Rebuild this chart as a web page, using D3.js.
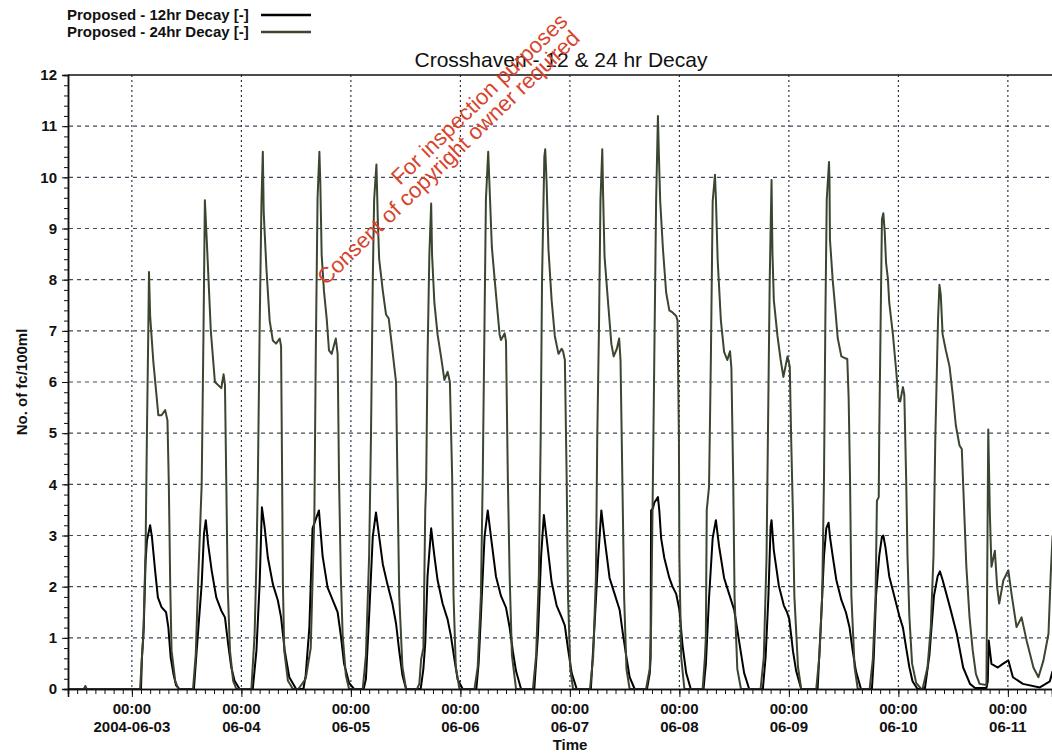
<!DOCTYPE html>
<html>
<head>
<meta charset="utf-8">
<script src="https://cdn.jsdelivr.net/npm/d3@7"></script>
<style>
  html, body { margin: 0; padding: 0; background: #fff; }
  svg { display: block; }
  text { font-family: "Liberation Sans", Arial, Helvetica, sans-serif; }
</style>
</head>
<body>
<svg id="chart" width="1052" height="754"></svg>
<script>
// ---- DATA (hours after 2004-06-02 00:00, values in No. of fc/100ml) ----
const seriesNames = ["Proposed - 12hr Decay [-]", "Proposed - 24hr Decay [-]"];
const seriesColors = ["#000000", "#3a4630"];

// 24hr decay (upper curve)
const hours24 = [
  10, 13.5, 13.8, 14.1, 25.8,
  26.2, 26.5, 27.0, 27.3, 27.6, 27.75, 28.0, 28.7, 29.3, 29.8, 30.5, 31.3, 31.8, 32.1, 32.4, 32.7, 33.5, 34.2,
  37.4, 38.0, 38.5, 39.3, 39.7, 40.0, 40.4, 41.3, 42.2, 43.6, 44.1, 44.4, 44.7, 45.0, 45.5, 46.2, 46.9,
  50.2, 50.9, 51.3, 51.6, 52.0, 52.4, 52.7, 52.9, 53.5, 54.2, 54.9, 55.6, 56.4, 56.7, 56.9, 57.1, 57.4, 58.2, 59.3,
  60.5, 62.1, 63.2, 64.0, 64.3, 64.7, 65.1, 65.3, 65.6, 66.1, 66.7, 67.2, 67.8, 68.7, 69.1, 69.4, 69.8, 70.2, 70.9, 71.6,
  74.6, 75.3, 76.0, 76.4, 76.8, 77.1, 77.6, 77.9, 78.2, 79.0, 79.7, 80.3, 81.0, 81.9, 82.2, 82.6, 83.3, 84.1,
  86.5, 87.0, 87.4, 87.9, 88.3, 88.5, 88.8, 89.2, 89.6, 89.8, 90.3, 91.0, 91.8, 92.5, 93.2, 93.7, 94.2, 94.5, 95.0, 95.8,
  99.1, 99.8, 100.5, 100.9, 101.3, 101.6, 102.1, 102.5, 102.9, 103.5, 104.2, 104.6, 104.9, 105.7, 106.0, 106.4, 106.8, 107.3, 108.2,
  111.9, 112.6, 113.2, 113.6, 113.9, 114.4, 114.6, 114.9, 115.3, 116.0, 116.7, 117.5, 118.2, 118.5, 118.9, 119.3, 119.6, 120.1, 120.7,
  124.4, 125.1, 125.7, 126.0, 126.4, 126.7, 127.1, 127.3, 127.6, 128.4, 129.1, 129.6, 130.3, 130.8, 131.1, 131.5, 131.9, 132.4, 133.1,
  136.7, 137.5, 137.8, 138.2, 138.5, 138.9, 139.3, 139.5, 139.8, 140.4, 141.1, 141.8, 142.5, 143.3, 143.6, 143.9, 144.0, 144.4, 145.1,
  149.1, 149.6, 149.8, 150.0, 150.5, 150.9, 151.3, 151.8, 152.0, 152.4, 153.1, 153.8, 154.5, 155.1, 155.4, 155.8, 156.1, 156.7, 157.5,
  161.8, 162.5, 163.1, 163.5, 163.8, 164.2, 164.4, 164.7, 165.5, 166.2, 166.8, 167.7, 168.2, 168.5, 168.9, 169.2, 170.0, 170.7,
  174.0, 174.7, 175.3, 175.7, 176.0, 176.3, 176.8, 176.9, 177.0, 177.3, 177.6, 178.2, 178.7, 179.5, 180.2, 180.8, 181.1, 181.4, 181.7, 182.4, 183.1,
  185.7, 186.4, 187.0, 187.3, 187.7, 187.8, 188.1, 188.4, 188.7, 189.0, 189.3, 189.7, 190.0, 190.8, 191.5, 192.0, 192.4, 193.0, 193.3, 193.7, 194.0, 194.4, 195.0, 195.9, 197.0,
  197.3, 198.4, 199.1, 199.7, 200.1, 200.5, 200.7, 201.0, 201.3, 201.7, 202.4, 203.2, 203.9, 204.6, 205.4, 205.9, 206.2, 206.9, 207.6, 208.3, 209.0, 209.8, 211.3,
  211.7, 212.05, 212.4, 213.15, 213.65, 214.1, 215.0, 216.1, 216.8, 217.9, 219.0, 220.1, 221.6, 222.7, 223.8, 224.9, 225.4, 225.8
];
const values24 = [
  0, 0, 0.06, 0, 0,
  0.62, 1.0, 2.7, 5.0, 7.0, 8.15, 7.3, 6.4, 5.83, 5.35, 5.35, 5.45, 5.25, 4.0, 2.05, 0.75, 0.16, 0,
  0, 0.68, 2.05, 4.0, 7.0, 9.55, 8.8, 7.0, 6.0, 5.88, 6.15, 5.95, 4.0, 2.0, 0.75, 0.16, 0,
  0, 1.07, 2.5, 4.0, 7.0, 9.5, 10.5, 9.3, 8.2, 7.2, 6.81, 6.75, 6.85, 6.7, 4.5, 2.05, 0.75, 0.16, 0,
  0, 0.2, 0.8, 3.4, 6.5, 9.6, 10.5, 9.9, 8.48, 7.78, 7.24, 6.62, 6.55, 6.85, 6.55, 4.14, 2.2, 1.05, 0.27, 0,
  0, 0.66, 2.6, 4.9, 8.0, 9.57, 10.25, 9.18, 8.4, 7.78, 7.32, 7.24, 6.7, 6.0, 4.14, 1.82, 0.43, 0,
  0, 0.1, 0.58, 0.8, 3.5, 4.0, 6.47, 8.48, 9.49, 8.48, 7.55, 6.93, 6.47, 6.04, 6.2, 6.0, 4.14, 1.82, 0.43, 0,
  0, 0.43, 1.82, 4.14, 7.24, 9.57, 10.5, 9.57, 8.64, 8.02, 7.32, 6.93, 6.82, 6.95, 6.8, 4.14, 2.2, 0.66, 0,
  0, 0.66, 2.2, 4.9, 8.0, 10.4, 10.55, 9.9, 8.6, 7.6, 6.9, 6.55, 6.65, 6.6, 6.43, 4.1, 1.78, 0.39, 0,
  0, 0.62, 2.17, 4.9, 7.2, 9.53, 10.55, 9.6, 8.45, 7.52, 6.74, 6.5, 6.65, 6.85, 6.43, 4.1, 1.78, 0.39, 0,
  0, 0.39, 1.24, 4.1, 6.43, 9.53, 11.2, 10.47, 9.53, 8.6, 7.75, 7.4, 7.36, 7.29, 7.2, 4.88, 2.56, 0.62, 0,
  0, 0.62, 1.0, 3.5, 3.95, 6.43, 9.53, 10.05, 9.6, 8.37, 7.2, 6.59, 6.43, 6.6, 6.28, 4.1, 1.78, 0.39, 0,
  0, 0.62, 2.56, 5.66, 7.98, 9.95, 8.53, 7.6, 6.9, 6.43, 6.1, 6.5, 6.3, 4.9, 3.37, 1.82, 0.43, 0,
  0, 0.66, 1.82, 4.14, 7.24, 9.57, 10.3, 9.95, 8.79, 8.4, 8.0, 7.4, 6.86, 6.5, 6.47, 6.45, 5.69, 4.14, 1.82, 0.43, 0,
  0, 0.58, 1.82, 3.68, 3.75, 4.92, 7.09, 9.18, 9.3, 8.95, 8.33, 8.02, 7.55, 6.93, 6.24, 5.69, 5.62, 5.9, 5.75, 4.14, 2.6, 1.43, 0.5, 0.12, 0,
  0, 0.43, 1.2, 2.6, 4.92, 6.47, 7.24, 7.9, 7.7, 6.93, 6.62, 6.31, 5.77, 5.15, 4.76, 4.69, 4.0, 2.39, 1.4, 0.75, 0.29, 0.1, 0.08,
  5.07, 3.43, 2.39, 2.7, 1.99, 1.67, 2.12, 2.32, 1.86, 1.21, 1.4, 0.95, 0.42, 0.23, 0.56, 1.08, 2.25, 3.0
];

// 12hr decay (lower curve)
const hours12 = [
  10, 26.0,
  26.2, 26.6, 27.0, 27.3, 28.0, 28.4, 29.1, 29.7, 30.5, 31.5, 32.0, 32.5, 33.1, 33.7, 34.4,
  37.6, 38.2, 39.3, 39.8, 40.2, 40.7, 41.5, 42.5, 43.6, 44.4, 45.1, 45.8, 46.5, 47.6,
  50.5, 51.3, 52.0, 52.5, 53.1, 53.8, 54.9, 56.0, 56.7, 57.5, 58.5, 60.0,
  61.6, 62.1, 62.9, 63.6, 65.0, 65.8, 66.9, 68.0, 69.1, 69.8, 70.5, 71.6, 72.7,
  74.8, 75.3, 76.0, 76.8, 77.5, 78.2, 79.0, 80.0, 81.1, 81.9, 82.6, 83.3, 84.1,
  87.3, 87.9, 88.3, 88.8, 89.6, 90.3, 91.0, 92.1, 93.2, 93.9, 94.7, 95.4, 96.5,
  99.5, 100.0, 100.5, 101.3, 102.0, 102.7, 103.8, 104.9, 106.0, 106.8, 107.5, 108.2, 109.3,
  112.2, 113.0, 113.7, 114.3, 114.9, 116.0, 117.1, 118.2, 118.9, 119.6, 120.4, 121.5,
  124.6, 125.5, 126.2, 126.9, 127.6, 128.7, 129.8, 130.9, 131.6, 132.4, 133.1, 134.2,
  136.9, 137.5, 137.7, 137.8, 138.2, 138.5, 139.3, 139.6, 140.0, 140.7, 141.8, 142.5, 143.3, 144.0, 144.7, 145.5, 146.5,
  149.3, 149.6, 149.8, 150.5, 151.3, 152.0, 152.7, 153.8, 154.9, 156.0, 156.7, 157.5, 158.2, 159.3,
  162.3, 162.9, 163.5, 164.0, 164.2, 164.7, 165.8, 166.9, 167.6, 168.1, 168.9, 169.6, 170.7,
  174.3, 175.1, 175.7, 176.2, 176.7, 177.0, 177.6, 178.4, 179.5, 180.5, 181.3, 182.0, 182.7, 183.8,
  186.2, 186.6, 187.1, 187.8, 188.4, 188.7, 189.2, 190.0, 191.1, 192.2, 193.0, 193.7, 194.4, 195.1, 196.2,
  197.8, 198.8, 199.8, 200.6, 201.1, 201.7, 203.3, 204.8, 206.2, 207.7, 208.8, 211.3,
  211.6, 211.8, 212.4, 213.8, 214.9, 216.1, 217.1, 219.3, 223.0, 225.2, 225.8
];
const values12 = [
  0, 0,
  0.6, 1.2, 2.5, 2.9, 3.2, 2.97, 2.31, 1.79, 1.6, 1.5, 1.2, 0.62, 0.3, 0.07, 0,
  0, 0.75, 2.05, 3.03, 3.3, 2.84, 2.31, 1.79, 1.53, 1.4, 0.88, 0.42, 0.16, 0,
  0, 0.75, 2.05, 3.55, 3.16, 2.57, 2.05, 1.73, 1.4, 0.75, 0.23, 0,
  0, 0.27, 1.2, 3.14, 3.49, 2.6, 1.98, 1.74, 1.5, 1.05, 0.5, 0.12, 0,
  0, 0.2, 1.43, 2.98, 3.45, 2.98, 2.44, 2.05, 1.67, 1.28, 0.74, 0.27, 0,
  0, 0.4, 0.9, 2.2, 3.14, 2.6, 2.13, 1.67, 1.36, 1.05, 0.58, 0.19, 0,
  0, 0.5, 1.43, 2.98, 3.49, 2.98, 2.2, 1.82, 1.59, 1.2, 0.74, 0.35, 0,
  0, 1.05, 2.6, 3.4, 2.95, 2.09, 1.63, 1.4, 1.24, 0.78, 0.31, 0,
  0, 1.4, 2.56, 3.49, 2.95, 2.17, 1.86, 1.55, 1.09, 0.62, 0.23, 0,
  0, 0.3, 0.6, 3.49, 3.53, 3.64, 3.75, 3.49, 2.95, 2.56, 2.17, 2.0, 1.86, 1.55, 0.85, 0.31, 0,
  0, 0.3, 0.47, 1.78, 2.95, 3.3, 2.79, 2.17, 1.86, 1.55, 1.16, 0.7, 0.31, 0,
  0, 0.62, 1.78, 3.18, 3.3, 2.71, 2.02, 1.63, 1.5, 1.36, 0.74, 0.35, 0,
  0, 1.43, 2.6, 3.14, 3.25, 2.98, 2.6, 2.13, 1.74, 1.5, 1.2, 0.74, 0.35, 0,
  0, 0.6, 1.82, 2.6, 2.98, 3.0, 2.75, 2.2, 1.82, 1.43, 1.2, 0.81, 0.43, 0.15, 0,
  0, 0.66, 1.82, 2.2, 2.3, 2.13, 1.6, 1.08, 0.42, 0.1, 0.02, 0.02,
  0.15, 0.95, 0.49, 0.42, 0.49, 0.56, 0.23, 0.1, 0.03, 0.15, 0.35
];

const yTickValues = [0,1,2,3,4,5,6,7,8,9,10,11,12];
const xTickDays = ["2004-06-03","2004-06-04","2004-06-05","2004-06-06","2004-06-07","2004-06-08","2004-06-09","2004-06-10","2004-06-11"];
const xTickLabels = ["2004-06-03","06-04","06-05","06-06","06-07","06-08","06-09","06-10","06-11"];
const chartTitle = "Crosshaven - 12 & 24 hr Decay";
const yTitle = "No. of fc/100ml";
const xTitle = "Time";
const watermarkLines = ["For inspection purposes", "Consent of copyright owner required"];

// ---- LAYOUT ----
const plotL = 68, plotR = 1052, plotT = 75, plotB = 689;
const baseMs = Date.UTC(2004, 5, 2, 0, 0);
const toDate = h => new Date(baseMs + h * 3600e3);

const x = d3.scaleUtc()
  .domain([toDate(10), toDate(10 + (plotR - plotL) / 4.5625)])
  .range([plotL, plotR]);
const y = d3.scaleLinear().domain([0, 12]).range([plotB, plotT]);

const svg = d3.select("#chart");

svg.append("defs").append("clipPath").attr("id", "plotclip")
  .append("rect").attr("x", plotL).attr("y", plotT - 2).attr("width", plotR - plotL).attr("height", plotB - plotT + 3);

// horizontal gridlines
svg.append("g").selectAll("line").data(yTickValues.filter(v => v > 0 && v < 12)).join("line")
  .attr("x1", plotL + 1).attr("x2", plotR)
  .attr("y1", d => y(d)).attr("y2", d => y(d))
  .attr("stroke", "#3f4a5a").attr("stroke-width", 1.2).attr("stroke-dasharray", "4,4");

// vertical gridlines
const dayDates = xTickDays.map(s => new Date(s + "T00:00:00Z"));
svg.append("g").selectAll("line").data(dayDates).join("line")
  .attr("x1", d => x(d)).attr("x2", d => x(d))
  .attr("y1", plotT).attr("y2", plotB)
  .attr("stroke", "#1e2538").attr("stroke-width", 1.1).attr("stroke-dasharray", "2,3");

// series
const lineGen = d3.line().x(d => x(d[0])).y(d => y(d[1]));
const s24 = hours24.map((h, i) => [toDate(h), values24[i]]);
const s12 = hours12.map((h, i) => [toDate(h), values12[i]]);
const plot = svg.append("g").attr("clip-path", "url(#plotclip)");
plot.append("path").datum(s12).attr("d", lineGen)
  .attr("fill", "none").attr("stroke", seriesColors[0]).attr("stroke-width", 2).attr("stroke-linejoin", "round");
plot.append("path").datum(s24).attr("d", lineGen)
  .attr("fill", "none").attr("stroke", seriesColors[1]).attr("stroke-width", 2).attr("stroke-linejoin", "round");

// top frame
svg.append("line").attr("x1", plotL).attr("x2", plotR).attr("y1", plotT).attr("y2", plotT)
  .attr("stroke", "#111").attr("stroke-width", 1.5);

// y axis
const yMinor = d3.axisLeft(y).tickValues(d3.range(0, 61, 1).map(v => v / 5)).tickSize(4).tickFormat("");
const gyMinor = svg.append("g").attr("transform", `translate(${plotL},0)`).call(yMinor);
const yAxis = d3.axisLeft(y).tickValues(yTickValues).tickSize(6).tickPadding(5).tickFormat(d3.format("d"));
const gy = svg.append("g").attr("transform", `translate(${plotL},0)`).call(yAxis);
[gyMinor, gy].forEach(g => {
  g.select(".domain").attr("stroke", "#111").attr("stroke-width", 1.5);
  g.selectAll(".tick line").attr("stroke", "#111");
});
gy.selectAll(".tick text").attr("font-size", 15).attr("font-weight", "bold").attr("fill", "#111")
  .attr("font-family", "'Liberation Sans', Arial, sans-serif");

// x axis
const xMinor = d3.axisBottom(x).ticks(d3.utcHour.every(2)).tickSize(5).tickFormat("");
const gxMinor = svg.append("g").attr("transform", `translate(0,${plotB})`).call(xMinor);
const xAxis = d3.axisBottom(x).tickValues(dayDates).tickSize(8).tickFormat("");
const gx = svg.append("g").attr("transform", `translate(0,${plotB})`).call(xAxis);
[gxMinor, gx].forEach(g => {
  g.select(".domain").attr("stroke", "#111").attr("stroke-width", 1.5);
  g.selectAll(".tick line").attr("stroke", "#111");
});
const xl = svg.append("g");
dayDates.forEach((d, i) => {
  const t = xl.append("text").attr("x", x(d)).attr("text-anchor", "middle")
    .attr("font-size", 15).attr("font-weight", "bold").attr("fill", "#111");
  t.append("tspan").attr("x", x(d)).attr("y", 714).text("00:00");
  t.append("tspan").attr("x", x(d)).attr("y", 732).text(xTickLabels[i]);
});

// axis titles
svg.append("text").attr("x", 570).attr("y", 750).attr("text-anchor", "middle")
  .attr("font-size", 15).attr("font-weight", "bold").attr("fill", "#111").text(xTitle);
svg.append("text").attr("transform", "translate(27,382) rotate(-90)").attr("text-anchor", "middle")
  .attr("font-size", 15).attr("font-weight", "bold").attr("fill", "#111").text(yTitle);

// chart title
svg.append("text").attr("x", 561).attr("y", 67).attr("text-anchor", "middle")
  .attr("font-size", 21).attr("fill", "#111").text(chartTitle);

// legend
const leg = svg.append("g");
seriesNames.forEach((n, i) => {
  const yy = 15 + i * 17;
  leg.append("text").attr("x", 67).attr("y", yy + 5).attr("font-size", 15).attr("font-weight", "bold")
    .attr("fill", "#111").text(n);
  leg.append("line").attr("x1", 261).attr("x2", 311).attr("y1", yy).attr("y2", yy)
    .attr("stroke", seriesColors[i]).attr("stroke-width", 2.5);
});

// watermark
const wm = svg.append("g").attr("fill", "#d8432c").attr("font-family", "'Liberation Serif', 'Times New Roman', serif")
  .attr("font-size", 22);
wm.append("text").attr("transform", "translate(400,186) rotate(-44)").text(watermarkLines[0]);
wm.append("text").attr("transform", "translate(326,286) rotate(-44)").text(watermarkLines[1]);
</script>
</body>
</html>
